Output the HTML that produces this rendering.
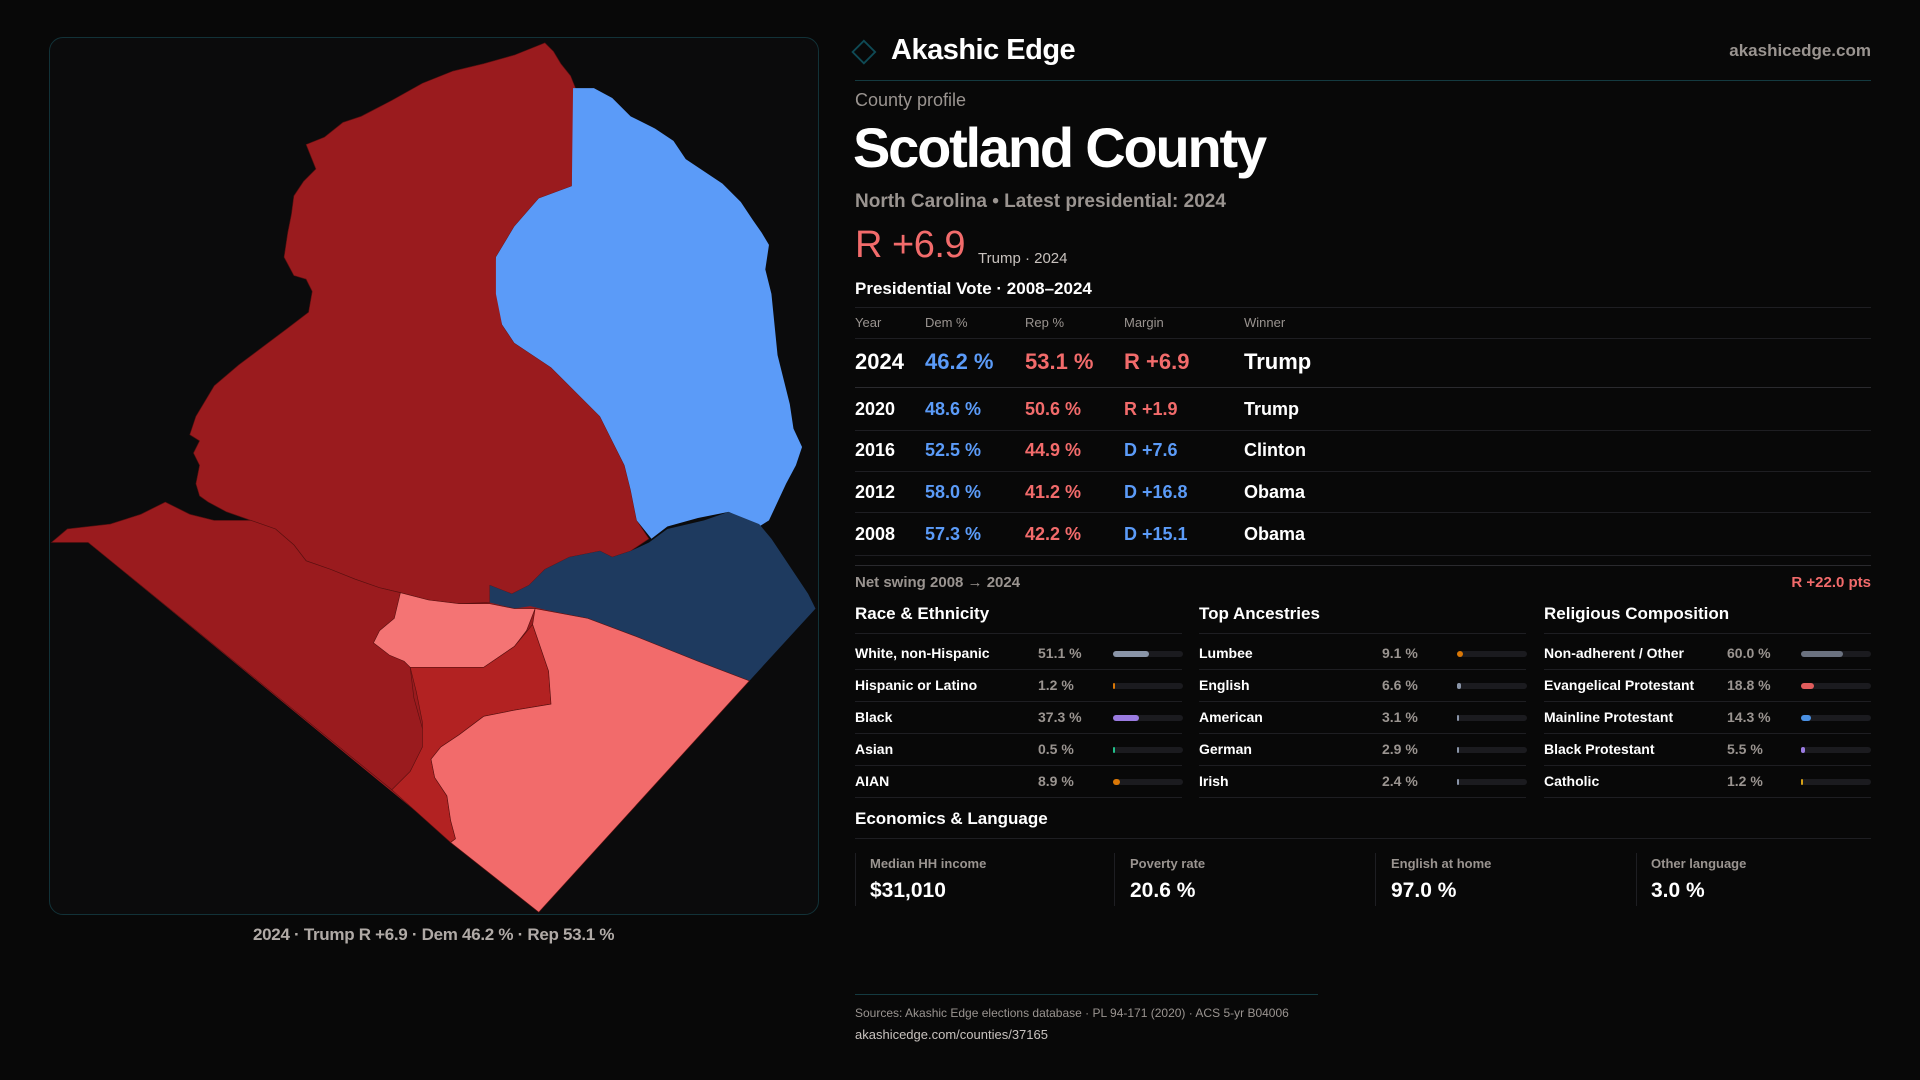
<!DOCTYPE html>
<html><head><meta charset="utf-8">
<style>
*{margin:0;padding:0;box-sizing:border-box}
body{width:1920px;height:1080px;background:#080808;font-family:"Liberation Sans",sans-serif;color:#fff;position:relative;overflow:hidden}
.a{position:absolute;line-height:1;white-space:nowrap}
.b{font-weight:bold}
.g{color:#9a9490}
.rule{position:absolute;height:1px;background:#1e1e22}
.blue{color:#5b9bf8}.red{color:#f26b6b}
.track{position:absolute;height:6px;width:70px;background:#1b1b1f;border-radius:3px}
.fill{position:absolute;left:0;top:0;height:6px;border-radius:3px}
</style></head><body>

<div style="position:absolute;left:49px;top:37px;width:770px;height:878px;border:1px solid #123238;border-radius:14px;background:#0b0b0c"></div>
<svg style="position:absolute;left:0;top:0" width="1920" height="1080" viewBox="0 0 1568 882">
<path fill="#9a1b1e" d="M42,443 L55,432 L90,428 L115,420 L135,410 L155,420 L175,425 L205,425 L225,432 L240,445 L250,458 L270,465 L290,473 L310,480 L327,484 L400,480 L440,465 L612,556 L440,745 L72,443 Z"/>
<g stroke="#5a1010" stroke-width="0.5">
<path fill="#9a1b1e" d="M445,35 L452,42 L458,52 L466,62 L470,72 L467,152 L440,162 L420,185 L405,210 L408,240 L410,265 L420,280 L435,290 L450,300 L470,320 L490,340 L500,360 L510,380 L515,400 L520,425 L530,440 L515,450 L500,455 L490,450 L465,455 L445,465 L432,478 L418,485 L400,478 L400,492 L375,493 L350,490 L327,484 L310,480 L290,473 L270,465 L250,458 L240,445 L225,432 L205,425 L185,418 L170,410 L163,405 L160,395 L163,380 L158,370 L163,360 L155,355 L160,340 L175,315 L195,298 L215,283 L235,268 L252,255 L255,238 L250,228 L240,225 L232,210 L235,190 L238,175 L240,160 L248,148 L258,138 L250,118 L265,112 L280,100 L295,95 L320,82 L345,68 L370,58 L395,52 L420,45 Z"/>
<path fill="#5b9bf8" stroke="none" d="M468,72 L485,72 L500,80 L515,95 L535,105 L550,115 L560,130 L575,140 L590,150 L605,165 L615,180 L622,190 L628,200 L625,220 L630,240 L632,260 L635,290 L640,310 L645,330 L648,350 L655,365 L650,380 L642,395 L635,410 L628,425 L620,430 L595,418 L570,423 L545,430 L532,440 L520,425 L515,400 L510,380 L500,360 L490,340 L470,320 L450,300 L435,290 L420,280 L410,265 L405,240 L405,210 L420,185 L440,162 L467,152 Z"/>
<path fill="#1e3a5f" stroke="none" d="M400,478 L418,485 L432,478 L445,465 L465,455 L490,450 L500,455 L515,450 L530,443 L545,432 L575,425 L595,418 L620,428 L630,440 L640,455 L650,470 L660,485 L666,497 L612,556 L570,540 L520,520 L480,505 L445,498 L433,495 L420,497 L400,492 Z"/>
<path fill="#9a1b1e" d="M42,443 L55,432 L90,428 L115,420 L135,410 L155,420 L175,425 L205,425 L225,432 L240,445 L250,458 L270,465 L290,473 L310,480 L327,484 L325,500 L322,515 L330,525 L335,545 L338,570 L345,595 L350,605 L335,630 L320,645 L72,443 Z"/>
<path fill="#f47474" d="M327,484 L350,490 L375,493 L400,493 L420,497 L437,497 L430,515 L420,528 L395,545 L350,545 L335,545 L330,540 L318,535 L305,525 L310,515 L322,505 Z"/>
<path fill="#b22222" d="M335,545 L395,545 L420,528 L435,510 L448,548 L450,575 L420,580 L395,585 L375,600 L360,610 L352,620 L355,635 L365,650 L368,670 L372,685 L368,688 L320,645 L335,630 L345,610 L345,590 L340,565 Z"/>
<path fill="#f26b6b" d="M437,497 L480,505 L520,520 L570,540 L612,556 L440,745 L368,688 L372,685 L368,670 L365,650 L355,635 L352,620 L360,610 L375,600 L395,585 L420,580 L450,575 L448,548 L435,510 Z"/>
</g>
<rect x="699" y="36" width="13" height="13" transform="rotate(45 705.5 42.5)" fill="none" stroke="#0f4a55" stroke-width="1.5"/>
</svg>
<div class="a g b" style="left:253px;top:926px;font-size:17px;color:#b0aaa6;letter-spacing:-0.3px">2024 · Trump R +6.9 · Dem 46.2 % · Rep 53.1 %</div>

<div class="a b" style="left:891px;top:36px;font-size:29px;letter-spacing:-0.5px">Akashic Edge</div>
<div class="a b g" style="right:49px;top:42px;font-size:17px">akashicedge.com</div>
<div style="position:absolute;left:855px;top:80px;width:1016px;height:1px;background:#143a40"></div>
<div class="a g" style="left:855px;top:91px;font-size:18px">County profile</div>
<div class="a b" style="left:853px;top:120px;font-size:56px;letter-spacing:-2.2px">Scotland County</div>
<div class="a g b" style="left:855px;top:192px;font-size:19px">North Carolina • Latest presidential: 2024</div>
<div class="a red" style="left:855px;top:226px;font-size:38px;letter-spacing:-0.5px">R +6.9</div>
<div class="a" style="left:978px;top:251px;font-size:15px;color:#c8c2be">Trump · 2024</div>
<div class="a b" style="left:855px;top:280px;font-size:17px">Presidential Vote · 2008–2024</div>
<div class="rule" style="left:855px;top:307px;width:1016px"></div>
<div class="a g" style="top:316px;left:855px;font-size:13px">Year</div>
<div class="a g" style="top:316px;left:925px;font-size:13px">Dem %</div>
<div class="a g" style="top:316px;left:1025px;font-size:13px">Rep %</div>
<div class="a g" style="top:316px;left:1124px;font-size:13px">Margin</div>
<div class="a g" style="top:316px;left:1244px;font-size:13px">Winner</div>
<div class="rule" style="left:855px;top:338px;width:1016px"></div>

<div class="a b" style="top:351px;left:855px;font-size:22px">2024</div>
<div class="a b blue" style="top:351px;left:925px;font-size:22px">46.2 %</div>
<div class="a b red" style="top:351px;left:1025px;font-size:22px">53.1 %</div>
<div class="a b red" style="top:351px;left:1124px;font-size:22px">R +6.9</div>
<div class="a b" style="top:351px;left:1244px;font-size:22px">Trump</div>
<div class="rule" style="left:855px;top:387px;width:1016px;background:#2a2a2e"></div>

<div class="a b" style="top:400px;left:855px;font-size:18px">2020</div>
<div class="a b blue" style="top:400px;left:925px;font-size:18px">48.6 %</div>
<div class="a b red" style="top:400px;left:1025px;font-size:18px">50.6 %</div>
<div class="a b red" style="top:400px;left:1124px;font-size:18px">R +1.9</div>
<div class="a b" style="top:400px;left:1244px;font-size:18px">Trump</div>
<div class="rule" style="left:855px;top:430px;width:1016px"></div>

<div class="a b" style="top:441px;left:855px;font-size:18px">2016</div>
<div class="a b blue" style="top:441px;left:925px;font-size:18px">52.5 %</div>
<div class="a b red" style="top:441px;left:1025px;font-size:18px">44.9 %</div>
<div class="a b blue" style="top:441px;left:1124px;font-size:18px">D +7.6</div>
<div class="a b" style="top:441px;left:1244px;font-size:18px">Clinton</div>
<div class="rule" style="left:855px;top:471px;width:1016px"></div>

<div class="a b" style="top:483px;left:855px;font-size:18px">2012</div>
<div class="a b blue" style="top:483px;left:925px;font-size:18px">58.0 %</div>
<div class="a b red" style="top:483px;left:1025px;font-size:18px">41.2 %</div>
<div class="a b blue" style="top:483px;left:1124px;font-size:18px">D +16.8</div>
<div class="a b" style="top:483px;left:1244px;font-size:18px">Obama</div>
<div class="rule" style="left:855px;top:512px;width:1016px"></div>

<div class="a b" style="top:525px;left:855px;font-size:18px">2008</div>
<div class="a b blue" style="top:525px;left:925px;font-size:18px">57.3 %</div>
<div class="a b red" style="top:525px;left:1025px;font-size:18px">42.2 %</div>
<div class="a b blue" style="top:525px;left:1124px;font-size:18px">D +15.1</div>
<div class="a b" style="top:525px;left:1244px;font-size:18px">Obama</div>
<div class="rule" style="left:855px;top:555px;width:1016px"></div>
<div class="rule" style="left:855px;top:565px;width:1016px;background:#2a2a2e"></div>

<div class="a g b" style="top:575px;left:855px;font-size:15px">Net swing 2008 → 2024</div>
<div class="a b red" style="top:575px;right:49px;font-size:15px">R +22.0 pts</div>

<div class="a b" style="top:605px;left:855px;font-size:17px">Race &amp; Ethnicity</div>
<div class="a b" style="top:605px;left:1199px;font-size:17px">Top Ancestries</div>
<div class="a b" style="top:605px;left:1544px;font-size:17px">Religious Composition</div>

<div class="a b" style="top:810px;left:855px;font-size:17px">Economics &amp; Language</div>
<div class="rule" style="left:855px;top:838px;width:1016px"></div>
<div style="position:absolute;left:855px;top:853px;width:1px;height:53px;background:#1e1e22"></div>
<div style="position:absolute;left:1114px;top:853px;width:1px;height:53px;background:#1e1e22"></div>
<div style="position:absolute;left:1375px;top:853px;width:1px;height:53px;background:#1e1e22"></div>
<div style="position:absolute;left:1636px;top:853px;width:1px;height:53px;background:#1e1e22"></div>
<div class="a g b" style="top:857px;left:870px;font-size:13px">Median HH income</div>
<div class="a g b" style="top:857px;left:1130px;font-size:13px">Poverty rate</div>
<div class="a g b" style="top:857px;left:1391px;font-size:13px">English at home</div>
<div class="a g b" style="top:857px;left:1651px;font-size:13px">Other language</div>
<div class="a b" style="top:880px;left:870px;font-size:21px">$31,010</div>
<div class="a b" style="top:880px;left:1130px;font-size:21px">20.6 %</div>
<div class="a b" style="top:880px;left:1391px;font-size:21px">97.0 %</div>
<div class="a b" style="top:880px;left:1651px;font-size:21px">3.0 %</div>

<div style="position:absolute;left:855px;top:994px;width:463px;height:1px;background:#143a40"></div>
<div class="a g" style="top:1007px;left:855px;font-size:12px">Sources: Akashic Edge elections database · PL 94-171 (2020) · ACS 5-yr B04006</div>
<div class="a" style="top:1028px;left:855px;font-size:13px;color:#c8c2be">akashicedge.com/counties/37165</div>

<div class="rule" style="left:855px;top:633px;width:327px"></div>
<div class="rule" style="left:1199px;top:633px;width:327px"></div>
<div class="rule" style="left:1544px;top:633px;width:327px"></div>

<div class="a b" style="top:646px;left:855px;font-size:14px">White, non-Hispanic</div><div class="a g b" style="top:646px;left:1038px;font-size:14px">51.1 %</div><div class="track" style="left:1113px;top:651px"><div class="fill" style="width:36px;background:#8a95a8"></div></div>
<div class="a b" style="top:678px;left:855px;font-size:14px">Hispanic or Latino</div><div class="a g b" style="top:678px;left:1038px;font-size:14px">1.2 %</div><div class="track" style="left:1113px;top:683px"><div class="fill" style="width:2px;background:#d97706"></div></div>
<div class="a b" style="top:710px;left:855px;font-size:14px">Black</div><div class="a g b" style="top:710px;left:1038px;font-size:14px">37.3 %</div><div class="track" style="left:1113px;top:715px"><div class="fill" style="width:26px;background:#9a7be0"></div></div>
<div class="a b" style="top:742px;left:855px;font-size:14px">Asian</div><div class="a g b" style="top:742px;left:1038px;font-size:14px">0.5 %</div><div class="track" style="left:1113px;top:747px"><div class="fill" style="width:2px;background:#22c08a"></div></div>
<div class="a b" style="top:774px;left:855px;font-size:14px">AIAN</div><div class="a g b" style="top:774px;left:1038px;font-size:14px">8.9 %</div><div class="track" style="left:1113px;top:779px"><div class="fill" style="width:7px;background:#d97706"></div></div>

<div class="a b" style="top:646px;left:1199px;font-size:14px">Lumbee</div><div class="a g b" style="top:646px;left:1382px;font-size:14px">9.1 %</div><div class="track" style="left:1457px;top:651px"><div class="fill" style="width:6px;background:#d97706"></div></div>
<div class="a b" style="top:678px;left:1199px;font-size:14px">English</div><div class="a g b" style="top:678px;left:1382px;font-size:14px">6.6 %</div><div class="track" style="left:1457px;top:683px"><div class="fill" style="width:4px;background:#8a95a8"></div></div>
<div class="a b" style="top:710px;left:1199px;font-size:14px">American</div><div class="a g b" style="top:710px;left:1382px;font-size:14px">3.1 %</div><div class="track" style="left:1457px;top:715px"><div class="fill" style="width:2px;background:#8a95a8"></div></div>
<div class="a b" style="top:742px;left:1199px;font-size:14px">German</div><div class="a g b" style="top:742px;left:1382px;font-size:14px">2.9 %</div><div class="track" style="left:1457px;top:747px"><div class="fill" style="width:2px;background:#8a95a8"></div></div>
<div class="a b" style="top:774px;left:1199px;font-size:14px">Irish</div><div class="a g b" style="top:774px;left:1382px;font-size:14px">2.4 %</div><div class="track" style="left:1457px;top:779px"><div class="fill" style="width:2px;background:#8a95a8"></div></div>

<div class="a b" style="top:646px;left:1544px;font-size:14px">Non-adherent / Other</div><div class="a g b" style="top:646px;left:1727px;font-size:14px">60.0 %</div><div class="track" style="left:1801px;top:651px"><div class="fill" style="width:42px;background:#6b7280"></div></div>
<div class="a b" style="top:678px;left:1544px;font-size:14px">Evangelical Protestant</div><div class="a g b" style="top:678px;left:1727px;font-size:14px">18.8 %</div><div class="track" style="left:1801px;top:683px"><div class="fill" style="width:13px;background:#e05c5c"></div></div>
<div class="a b" style="top:710px;left:1544px;font-size:14px">Mainline Protestant</div><div class="a g b" style="top:710px;left:1727px;font-size:14px">14.3 %</div><div class="track" style="left:1801px;top:715px"><div class="fill" style="width:10px;background:#4a90e2"></div></div>
<div class="a b" style="top:742px;left:1544px;font-size:14px">Black Protestant</div><div class="a g b" style="top:742px;left:1727px;font-size:14px">5.5 %</div><div class="track" style="left:1801px;top:747px"><div class="fill" style="width:4px;background:#9a7be0"></div></div>
<div class="a b" style="top:774px;left:1544px;font-size:14px">Catholic</div><div class="a g b" style="top:774px;left:1727px;font-size:14px">1.2 %</div><div class="track" style="left:1801px;top:779px"><div class="fill" style="width:2px;background:#d4a017"></div></div>

<div class="rule" style="left:855px;top:669px;width:327px"></div><div class="rule" style="left:855px;top:701px;width:327px"></div><div class="rule" style="left:855px;top:733px;width:327px"></div><div class="rule" style="left:855px;top:765px;width:327px"></div><div class="rule" style="left:855px;top:797px;width:327px"></div>
<div class="rule" style="left:1199px;top:669px;width:327px"></div><div class="rule" style="left:1199px;top:701px;width:327px"></div><div class="rule" style="left:1199px;top:733px;width:327px"></div><div class="rule" style="left:1199px;top:765px;width:327px"></div><div class="rule" style="left:1199px;top:797px;width:327px"></div>
<div class="rule" style="left:1544px;top:669px;width:327px"></div><div class="rule" style="left:1544px;top:701px;width:327px"></div><div class="rule" style="left:1544px;top:733px;width:327px"></div><div class="rule" style="left:1544px;top:765px;width:327px"></div><div class="rule" style="left:1544px;top:797px;width:327px"></div>
</body></html>
